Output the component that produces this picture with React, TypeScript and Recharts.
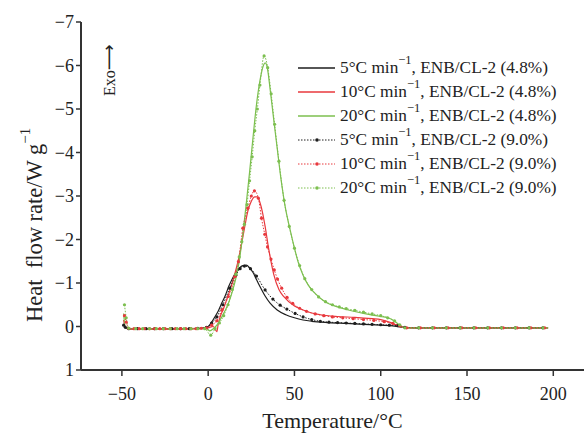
import { LineChart, Line, XAxis, YAxis } from "recharts";

// temperatures (°C) and heat flow rate (W/g)
const t5a = [-49, -47.5, -45, -35, -25, -15, -5, 0, 2, 4, 6, 8, 10, 12, 14, 16, 18, 20, 22, 24, 26, 28, 30, 33, 36, 40, 45, 50, 55, 60, 70, 80, 90, 100, 108, 113, 120, 140, 160, 180, 197];
const q5a = [-0.03, 0.03, 0.05, 0.05, 0.05, 0.05, 0.04, 0.0, -0.1, -0.23, -0.37, -0.55, -0.72, -0.93, -1.1, -1.24, -1.34, -1.4, -1.41, -1.35, -1.24, -1.08, -0.92, -0.7, -0.53, -0.38, -0.27, -0.2, -0.15, -0.12, -0.09, -0.07, -0.05, -0.03, -0.01, 0.02, 0.03, 0.03, 0.03, 0.03, 0.03];

const t10a = [-49, -48, -46, -35, -25, -15, -5, 0, 3, 5, 5.8, 7, 9, 11, 13, 15, 17, 19, 21, 23, 25, 27, 28.5, 30, 31.5, 33, 35, 38, 41, 44, 50, 55, 60, 65, 75, 85, 95, 100, 105, 108, 111, 115, 130, 150, 170, 197];
const q10a = [-0.15, 0.02, 0.06, 0.06, 0.06, 0.06, 0.05, 0.03, 0.0, 0.12, -0.05, -0.23, -0.42, -0.65, -0.88, -1.15, -1.45, -1.82, -2.25, -2.65, -2.88, -2.98, -2.98, -2.85, -2.62, -2.3, -1.8, -1.2, -0.85, -0.68, -0.47, -0.38, -0.31, -0.27, -0.23, -0.21, -0.18, -0.16, -0.1, -0.05, 0.0, 0.03, 0.03, 0.03, 0.03, 0.03];

const t20a = [-49, -48, -46, -35, -25, -15, -5, -1, 1, 3, 5, 8, 10, 12, 14, 16, 18, 20, 22, 24, 26, 28, 30, 32, 33, 34, 36, 38, 40, 42, 44.6, 47.5, 50, 52, 55, 58, 61, 65, 69, 75, 80, 90, 100, 105, 108, 111, 114, 125, 145, 165, 185, 197];
const q20a = [-0.3, 0.02, 0.05, 0.05, 0.05, 0.05, 0.05, 0.05, 0.1, 0.05, -0.03, -0.23, -0.38, -0.56, -0.8, -1.1, -1.5, -2.1, -2.8, -3.55, -4.35, -5.1, -5.65, -6.0, -6.06, -6.0, -5.42, -4.75, -4.1, -3.45, -2.76, -2.22, -1.8, -1.5, -1.18, -0.95, -0.8, -0.65, -0.54, -0.45, -0.39, -0.3, -0.23, -0.19, -0.12, -0.03, 0.03, 0.03, 0.03, 0.03, 0.03, 0.03];

const t5b = [-49, -48, -46, -41, -36, -31, -26, -21, -16, -11, -6, -1, 2, 5, 8.5, 12.5, 16, 18.5, 21, 24.5, 28, 33, 37.5, 41.7, 45.6, 50.4, 55, 60, 65, 70, 75, 80, 85, 90, 95, 100, 105, 110, 114, 122, 130, 138, 146, 154, 162, 170, 178, 186, 194];
const q5b = [-0.03, 0.02, 0.05, 0.05, 0.05, 0.05, 0.05, 0.05, 0.05, 0.05, 0.04, 0.02, -0.08, -0.22, -0.5, -0.88, -1.18, -1.33, -1.39, -1.33, -1.16, -0.84, -0.63, -0.49, -0.4, -0.3, -0.22, -0.16, -0.12, -0.1, -0.09, -0.08, -0.07, -0.06, -0.05, -0.04, -0.03, -0.02, 0.02, 0.03, 0.03, 0.03, 0.03, 0.03, 0.03, 0.03, 0.03, 0.03, 0.03];

const t10b = [-48.5, -47.5, -46, -43, -40, -37, -34, -31, -28, -25, -22, -19, -16, -13, -10, -7, -4, -1, 2, 5, 8, 11.7, 15.6, 17.5, 20.1, 23, 25, 26.8, 29.1, 30.9, 32.8, 34.4, 36.4, 38.3, 40.2, 42.6, 45.7, 49, 53, 57, 62, 67, 72, 78, 84, 90, 96, 102, 107, 111, 115, 123, 131, 139, 147, 155, 163, 171, 179, 187, 195];
const q10b = [-0.25, -0.1, 0.04, 0.05, 0.05, 0.05, 0.05, 0.05, 0.05, 0.05, 0.05, 0.05, 0.05, 0.05, 0.05, 0.05, 0.04, 0.03, -0.03, -0.13, -0.38, -0.69, -1.15, -1.49, -2.26, -2.72, -3.0, -3.12, -2.95, -2.49, -2.12, -1.83, -1.55, -1.3, -1.09, -0.88, -0.67, -0.53, -0.42, -0.35, -0.29, -0.25, -0.22, -0.2, -0.18, -0.16, -0.14, -0.11, -0.07, -0.02, 0.03, 0.03, 0.03, 0.03, 0.03, 0.03, 0.03, 0.03, 0.03, 0.03, 0.03];

const t20b = [-48.5, -47.5, -46, -42, -38, -34, -30, -26, -22, -18, -14, -10, -6, -2, 1.5, 4, 6.5, 9, 11.5, 14, 16, 18, 19.5, 21, 22.5, 24, 25.5, 27, 28.5, 30, 32.4, 34.5, 36.5, 38.5, 41, 44, 47, 50, 53, 56, 60, 64, 68, 72, 76, 80, 85, 90, 95, 100, 104, 108, 111, 114, 122, 130, 138, 146, 154, 162, 170, 178, 186, 194];
const q20b = [-0.5, -0.2, 0.04, 0.05, 0.05, 0.05, 0.05, 0.05, 0.05, 0.05, 0.05, 0.05, 0.05, 0.05, 0.2, 0.05, -0.08, -0.25, -0.5, -0.85, -1.2, -1.6, -1.95, -2.35, -2.8, -3.35, -3.9, -4.5, -5.0, -5.55, -6.22, -5.95, -5.35, -4.65, -3.8, -2.9, -2.3, -1.8, -1.4, -1.1, -0.85, -0.68, -0.57, -0.5, -0.45, -0.41, -0.37, -0.33, -0.29, -0.25, -0.2, -0.13, -0.04, 0.03, 0.03, 0.03, 0.03, 0.03, 0.03, 0.03, 0.03, 0.03, 0.03, 0.03];

const xTicks = [-50, 0, 50, 100, 150, 200];
const yTicks = [1, 0, -1, -2, -3, -4, -5, -6, -7];
const rates = ["5", "10", "20", "5", "10", "20"];
const loads = ["4.8%", "4.8%", "4.8%", "9.0%", "9.0%", "9.0%"];

const BLACK = "#1e1e1e";
const RED = "#e8383d";
const GREEN = "#7cbf4f";
const colors = [BLACK, RED, GREEN, BLACK, RED, GREEN];
const FONT = "'Liberation Serif', 'Times New Roman', serif";

const pts = (ts: number[], qs: number[]) => ts.map((t, i) => ({ t, q: qs[i] }));
const fmt = (v: number) => String(v).replace("-", "\u2212");

const solid = [pts(t5a, q5a), pts(t10a, q10a), pts(t20a, q20a)];
const dotted = [pts(t5b, q5b), pts(t10b, q10b), pts(t20b, q20b)];

const LegendBox = () => (
  <div style={{ position: "absolute", left: 298, top: 56, fontFamily: FONT, fontSize: 17.3, color: "#222" }}>
    {rates.map((r, i) => (
      <div key={i} style={{ height: 24, display: "flex", alignItems: "center", whiteSpace: "nowrap" }}>
        <svg width={38} height={10} style={{ marginRight: 4 }}>
          <line x1={0} y1={5} x2={37} y2={5} stroke={colors[i]} strokeWidth={i < 3 ? 1.3 : 1} strokeDasharray={i < 3 ? undefined : "1.5 1.5"} />
          {i >= 3 && <circle cx={19} cy={5} r={1.8} fill={colors[i]} />}
        </svg>
        <span>
          {r}°C min
          <span style={{ fontSize: 12.5, position: "relative", top: -9 }}>{"\u22121"}</span>, ENB/CL-2 ({loads[i]})
        </span>
      </div>
    ))}
  </div>
);

export default function App() {
  return (
    <div style={{ position: "absolute", left: 0, top: 0, width: 584, height: 434, background: "#fff" }}>
      <LineChart width={584} height={434} margin={{ top: 22, right: 0, bottom: 0, left: 0 }}>
        <XAxis
          type="number"
          dataKey="t"
          domain={[-73.7, 217.8]}
          ticks={xTicks}
          allowDataOverflow
          height={64}
          tickSize={6}
          tickMargin={11}
          tickFormatter={fmt}
          axisLine={{ stroke: "#333", strokeWidth: 2 }}
          tickLine={{ stroke: "#333", strokeWidth: 1.5 }}
          tick={{ fontSize: 18, fill: "#222", fontFamily: FONT }}
          label={{ value: "Temperature/°C", position: "insideBottom", offset: 6, fontSize: 22, fill: "#222", fontFamily: FONT }}
        />
        <XAxis
          xAxisId="top"
          orientation="top"
          type="number"
          domain={[-73.7, 217.8]}
          height={0}
          tick={false}
          tickLine={false}
          axisLine={{ stroke: "#333", strokeWidth: 2 }}
        />
        <YAxis
          type="number"
          domain={[-7, 1]}
          reversed
          ticks={yTicks}
          allowDataOverflow
          width={81}
          tickSize={5}
          tickMargin={2}
          tickFormatter={fmt}
          axisLine={{ stroke: "#333", strokeWidth: 2 }}
          tickLine={{ stroke: "#333", strokeWidth: 1.5 }}
          tick={{ fontSize: 18, fill: "#222", fontFamily: FONT }}
        />
        {solid.map((d, i) => (
          <Line
            key={"s" + i}
            data={d}
            dataKey="q"
            type="monotone"
            stroke={colors[i]}
            strokeWidth={1.2}
            dot={false}
            isAnimationActive={false}
          />
        ))}
        {dotted.map((d, i) => (
          <Line
            key={"d" + i}
            data={d}
            dataKey="q"
            type="monotone"
            stroke={colors[i + 3]}
            strokeWidth={1}
            strokeDasharray="1.5 1.5"
            dot={{ r: 1.6, fill: colors[i + 3], strokeWidth: 0 }}
            isAnimationActive={false}
          />
        ))}
      </LineChart>
      <svg width={584} height={434} style={{ position: "absolute", left: 0, top: 0, pointerEvents: "none" }}>
        <text transform="translate(42,322) rotate(-90)" fontSize={22.5} fontFamily={FONT} fill="#222" style={{ whiteSpace: "pre" }}>
          {"Heat  flow rate/W g"}
          <tspan dy={-12} fontSize={15}>{"\u22121"}</tspan>
        </text>
        <text transform="translate(115,96) rotate(-90)" fontSize={16} fontFamily={FONT} fill="#222">
          Exo
          <tspan fontFamily="'DejaVu Sans', sans-serif" fontSize={18}>{"\u27f6"}</tspan>
        </text>
      </svg>
      <LegendBox />
    </div>
  );
}
